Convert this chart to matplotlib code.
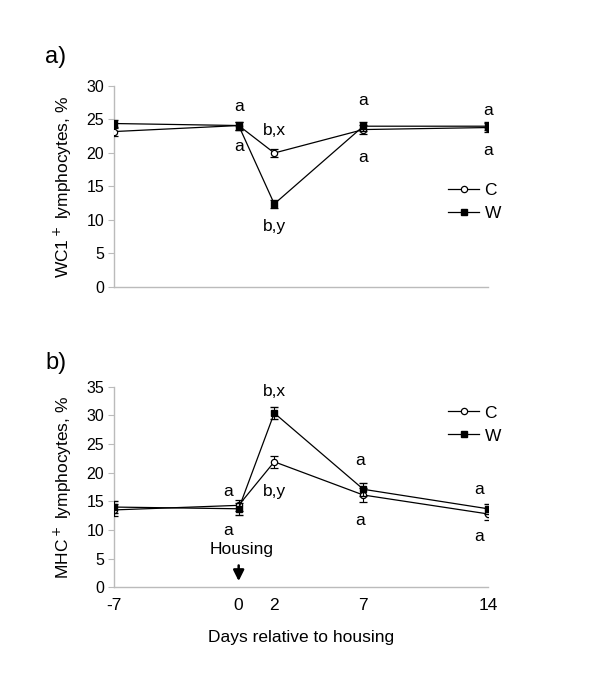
import numpy as np
import matplotlib
matplotlib.use('Agg')
import matplotlib.pyplot as plt

plt.rcParams['font.family'] = ['Liberation Sans', 'DejaVu Sans']
plt.rcParams['axes.unicode_minus'] = False

days = [-7, 0, 2, 7, 14]

# panel a: WC1+ lymphocytes
wc1_C = [23.2, 24.1, 20.0, 23.5, 23.8]
wc1_C_err = [0.6, 0.6, 0.6, 0.7, 0.7]
wc1_W = [24.4, 24.1, 12.4, 24.0, 24.0]
wc1_W_err = [0.5, 0.6, 0.6, 0.7, 0.6]

# panel b: MHC+ lymphocytes
mhc_C = [13.5, 14.3, 21.9, 16.1, 12.8]
mhc_C_err = [1.0, 1.0, 1.0, 1.2, 1.0]
mhc_W = [14.0, 13.7, 30.4, 17.1, 13.7]
mhc_W_err = [1.0, 1.0, 1.0, 1.1, 0.9]

# significance letters: (day, y, text)
wc1_letters = [(0, 26.9, 'a'), (0, 20.9, 'a'), (2, 23.3, 'b,x'), (2, 9.1, 'b,y'),
               (7, 27.9, 'a'), (7, 19.4, 'a'), (14, 26.4, 'a'), (14, 20.4, 'a')]
mhc_letters = [(-0.6, 16.8, 'a'), (-0.6, 9.9, 'a'), (2, 34.1, 'b,x'), (2, 16.7, 'b,y'),
               (6.8, 22.2, 'a'), (6.8, 11.7, 'a'), (13.5, 17.0, 'a'), (13.5, 8.8, 'a')]

fig = plt.figure(figsize=(6, 6.99), dpi=100)
W, H = 600, 699

def axes_px(l, t, r, b):
    return fig.add_axes([l / W, 1 - b / H, (r - l) / W, (b - t) / H])

ax1 = axes_px(114, 86, 488, 287)
ax2 = axes_px(114, 386.7, 488, 587.3)

def style(ax, ymax, ylabel):
    ax.set_xlim(-7, 14)
    ax.set_ylim(0, ymax)
    ax.set_yticks(np.arange(0, ymax + 1, 5))
    for s in ['top', 'right']:
        ax.spines[s].set_visible(False)
    for s in ['left', 'bottom']:
        ax.spines[s].set_color('#bbbbbb')
        ax.spines[s].set_linewidth(1)
    ax.tick_params(axis='y', direction='out', length=4, color='#bbbbbb', labelsize=11.5, pad=3)
    ax.set_ylabel(ylabel, fontsize=12.5, labelpad=9)

def draw(ax, c, ce, w, we):
    ax.errorbar(days, c, yerr=ce, color='black', lw=0.9, elinewidth=0.8, capsize=3,
                marker='o', ms=4.5, mfc='white', mec='black', mew=0.9, label='C', zorder=3)
    ax.errorbar(days, w, yerr=we, color='black', lw=0.9, elinewidth=0.8, capsize=3,
                marker='s', ms=5, mfc='black', mec='black', label='W', zorder=4)

draw(ax1, wc1_C, wc1_C_err, wc1_W, wc1_W_err)
style(ax1, 30, 'WC1$^+$ lymphocytes, %')
ax1.set_xticks([])
for x, y, t in wc1_letters:
    ax1.text(x, y, t, ha='center', va='center', fontsize=12.5)

draw(ax2, mhc_C, mhc_C_err, mhc_W, mhc_W_err)
style(ax2, 35, 'MHC$^+$ lymphocytes, %')
ax2.set_xticks(days)
ax2.tick_params(axis='x', length=0, labelsize=12.5, pad=8)
ax2.set_xlabel('Days relative to housing', fontsize=12.5, labelpad=12)
for x, y, t in mhc_letters:
    ax2.text(x, y, t, ha='center', va='center', fontsize=12.5)
ax2.text(0.15, 6.6, 'Housing', ha='center', va='center', fontsize=12.5)
ax2.annotate('', xy=(0, 0.6), xytext=(0, 4.3),
             arrowprops=dict(arrowstyle='-|>', color='black', lw=1.8, mutation_scale=16))

for ax, yb in [(ax1, 0.56), (ax2, 0.95)]:
    h, l = ax.get_legend_handles_labels()
    h = [hh[0] for hh in h]
    ax.legend(h, l, loc='upper left', bbox_to_anchor=(0.87, yb), frameon=False,
              fontsize=12.5, handlelength=1.8, handletextpad=0.3, borderpad=0,
              labelspacing=0.45)

fig.text(56 / W, 1 - 57 / H, 'a)', fontsize=17, ha='center', va='center')
fig.text(56 / W, 1 - 363 / H, 'b)', fontsize=17, ha='center', va='center')

fig.savefig('out.png', dpi=100)
